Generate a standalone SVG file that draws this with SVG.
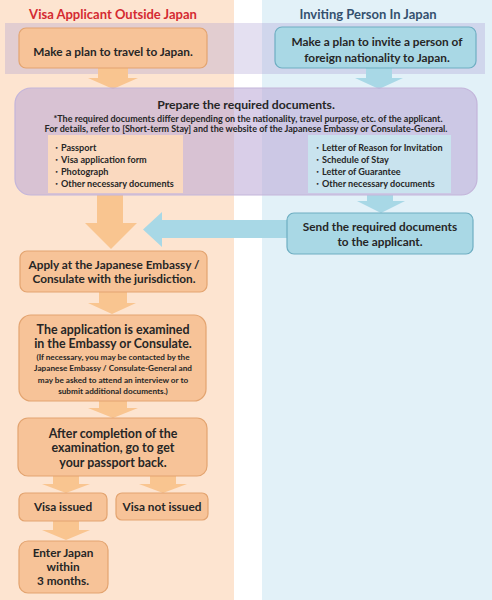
<svg xmlns="http://www.w3.org/2000/svg" width="492" height="600" viewBox="0 0 492 600">
<style>
text{font-family:Lato,"Liberation Sans",sans-serif;font-weight:bold;fill:#262626;text-anchor:middle}
.hdr{font-size:13px}
.m{font-size:11.8px}
.big{font-size:12.4px}
.t{font-size:12.2px}
.s{font-size:8.2px}
.n{font-size:9px}
.li{font-size:9.1px;text-anchor:start}
.ob{fill:#f7c398;stroke:#e3a470;stroke-width:1.2}
.bb{fill:#a9d8e5;stroke:#6eaec2;stroke-width:1.2}
.oa{fill:#f9c590}
.ba{fill:#a8d8e6}
</style>
<g id="backgrounds">
<rect x="0" y="0" width="234" height="600" fill="#fde4d0"/>
<rect x="262" y="0" width="230" height="600" fill="#e2f1f8"/>
<rect x="5" y="23" width="480" height="51" fill="#a797cf" opacity="0.3"/>
</g>
<g id="headers">
<text class="hdr" x="113" y="19" style="fill:#d42a32">Visa Applicant Outside Japan</text>
<text class="hdr" x="368" y="19" style="fill:#34506e">Inviting Person In Japan</text>
</g>
<g id="connectors">
<polygon class="oa" points="98,68 128,68 128,78 138,78 113,89 88,78 98,78"/>
<polygon class="ba" points="366,68 392,68 392,78 403,78 379,89 355,78 366,78"/>
<polygon class="oa" points="97,195 123,195 123,223 137,223 111,249 85,223 97,223"/>
<polygon class="ba" points="367,195 393,195 393,201 405,201 381,213 357,201 367,201"/>
<polygon class="ba" points="287,220 162,220 162,212 143,229.5 162,247 162,238 287,238"/>
<polygon class="oa" points="99,292 127,292 127,303 136,303 112,314 88,303 99,303"/>
<polygon class="oa" points="99,401 127,401 127,408 138,408 113,418 88,408 99,408"/>
<polygon class="oa" points="53,476 79,476 79,484 90,484 66,493 42,484 53,484"/>
<polygon class="oa" points="150,476 176,476 176,484 187,484 163,493 139,484 150,484"/>
<polygon class="oa" points="53,521 79,521 79,530 90,530 66,540 42,530 53,530"/>
</g>
<g id="plan-applicant">
<rect class="ob" x="19" y="28" width="188" height="40" rx="7"/>
<text class="m" x="113" y="56">Make a plan to travel to Japan.</text>
</g>
<g id="plan-inviter">
<rect class="bb" x="275" y="27" width="201" height="41" rx="7"/>
<text class="m" x="377" y="46">Make a plan to invite a person of</text>
<text class="m" x="377" y="62">foreign nationality to Japan.</text>
</g>
<g id="prepare">
<rect x="15" y="88" width="462" height="107" rx="16" fill="#b9a6d6" fill-opacity="0.55" stroke="#c3b5da" stroke-width="1.2"/>
<rect x="48" y="135" width="135" height="58" fill="#fad9bf"/>
<rect x="308" y="135" width="143" height="58" fill="#c9e3ee"/>
<text class="t" x="246" y="109">Prepare the required documents.</text>
<text class="n" x="248" y="121.5">*The required documents differ depending on the nationality, travel purpose, etc. of the applicant.</text>
<text class="n" x="246" y="132">For details, refer to [Short-term Stay] and the website of the Japanese Embassy or Consulate-General.</text>
<text class="li" x="52" y="150.5">・Passport</text>
<text class="li" x="52" y="162.5">・Visa application form</text>
<text class="li" x="52" y="174.5">・Photograph</text>
<text class="li" x="52" y="186.5">・Other necessary documents</text>
<text class="li" x="313" y="150.5">・Letter of Reason for Invitation</text>
<text class="li" x="313" y="162.5">・Schedule of Stay</text>
<text class="li" x="313" y="174.5">・Letter of Guarantee</text>
<text class="li" x="313" y="186.5">・Other necessary documents</text>
</g>
<g id="send">
<rect class="bb" x="287" y="213" width="186" height="41" rx="7"/>
<text class="m" x="380" y="231">Send the required documents</text>
<text class="m" x="380" y="246">to the applicant.</text>
</g>
<g id="apply">
<rect class="ob" x="20" y="251" width="187" height="41" rx="7"/>
<text class="m" x="114" y="269">Apply at the Japanese Embassy /</text>
<text class="m" x="114" y="283">Consulate with the jurisdiction.</text>
</g>
<g id="examined">
<rect class="ob" x="19" y="315" width="187" height="86" rx="12"/>
<text class="big" x="113" y="334">The application is examined</text>
<text class="big" x="113" y="348">in the Embassy or Consulate.</text>
<text class="s" x="113" y="359.5">(If necessary, you may be contacted by the</text>
<text class="s" x="113" y="371">Japanese Embassy / Consulate-General and</text>
<text class="s" x="113" y="382.5">may be asked to attend an interview or to</text>
<text class="s" x="113" y="394">submit additional documents.)</text>
</g>
<g id="passport-back">
<rect class="ob" x="18" y="418" width="189" height="58" rx="10"/>
<text class="big" x="113" y="437.5">After completion of the</text>
<text class="big" x="113" y="452">examination, go to get</text>
<text class="big" x="113" y="466.5">your passport back.</text>
</g>
<g id="visa-issued">
<rect class="ob" x="19" y="493" width="88" height="28" rx="6"/>
<text class="m" x="63" y="511">Visa issued</text>
</g>
<g id="visa-not-issued">
<rect class="ob" x="116" y="493" width="92" height="27" rx="6"/>
<text class="m" x="162" y="511">Visa not issued</text>
</g>
<g id="enter-japan">
<rect class="ob" x="19" y="541" width="89" height="52" rx="9"/>
<text class="m" x="63" y="557">Enter Japan</text>
<text class="m" x="63" y="571">within</text>
<text class="m" x="63" y="585">3 months.</text>
</g>
</svg>
